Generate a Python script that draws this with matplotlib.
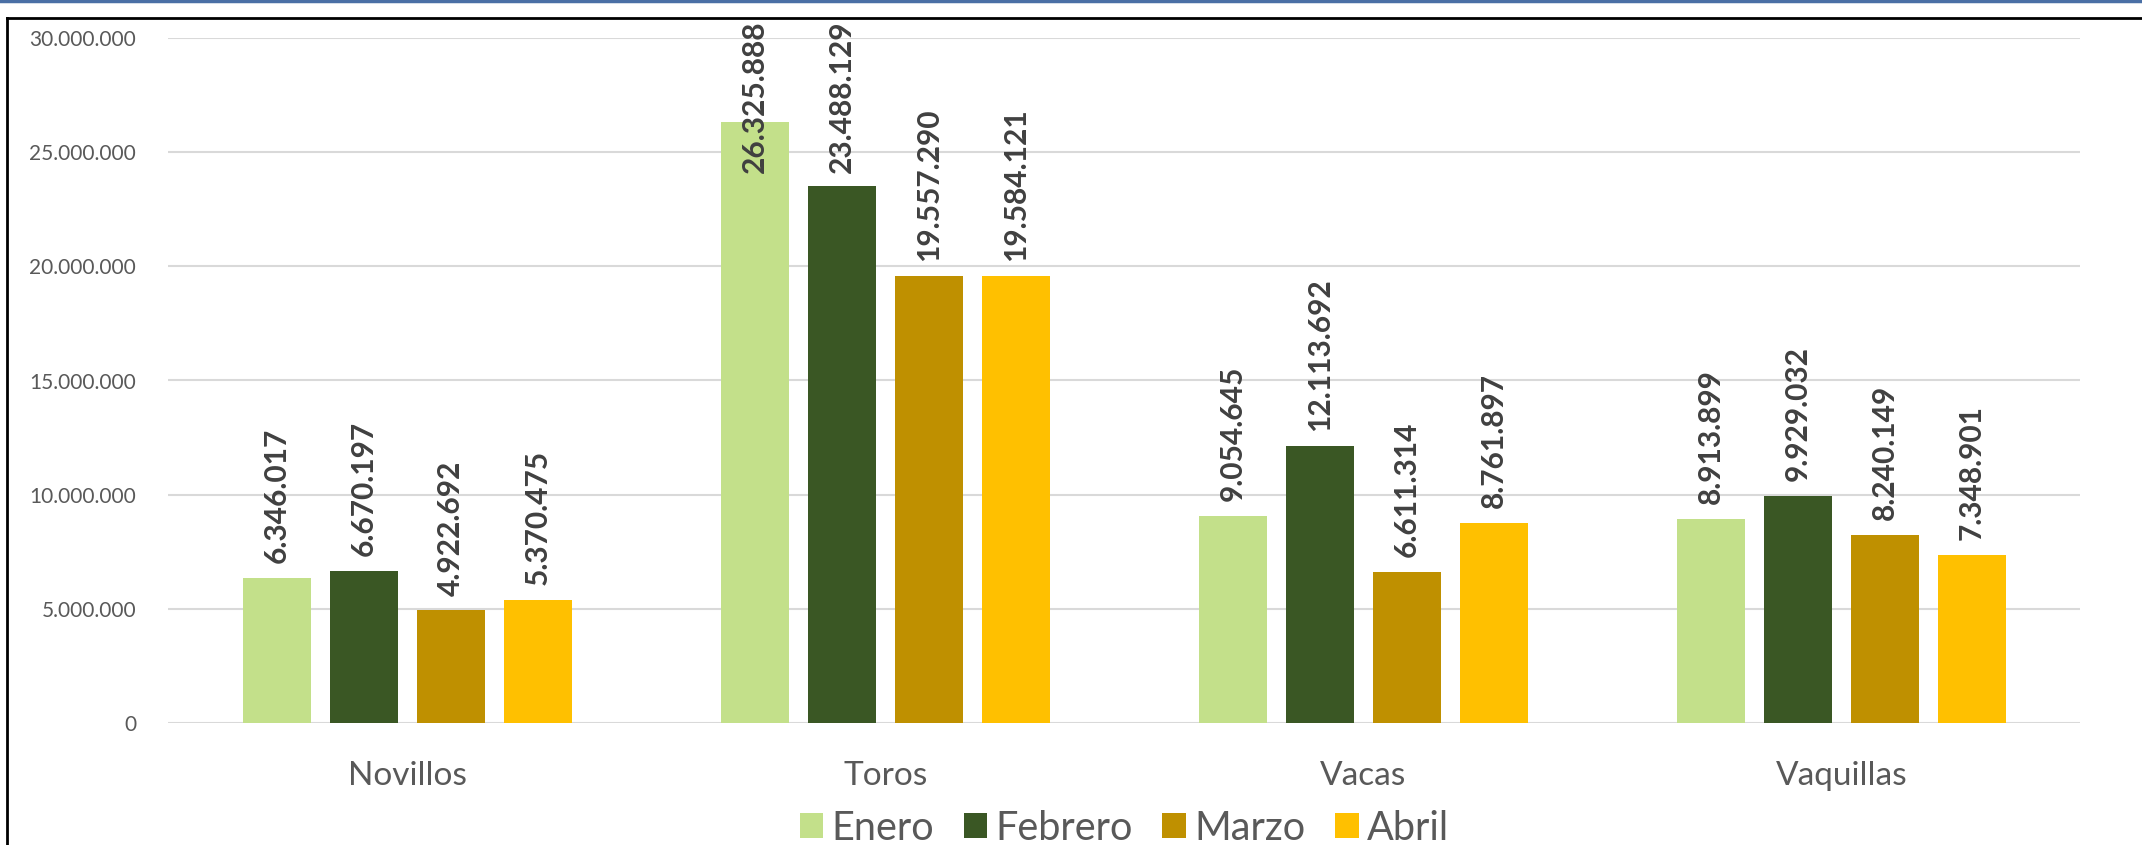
import numpy as np
import matplotlib
matplotlib.use('Agg')
import matplotlib.pyplot as plt
from matplotlib.lines import Line2D
from matplotlib.ticker import FuncFormatter

categorias = ['Novillos', 'Toros', 'Vacas', 'Vaquillas']
meses = ['Enero', 'Febrero', 'Marzo', 'Abril']
enero = [6346017, 26325888, 9054645, 8913899]
febrero = [6670197, 23488129, 12113692, 9929032]
marzo = [4922692, 19557290, 6611314, 8240149]
abril = [5370475, 19584121, 8761897, 7348901]
colores = ['#C3E08A', '#3A5724', '#BF9000', '#FFC000']

plt.rcParams['font.family'] = ['Lato', 'DejaVu Sans']

W, H = 2142, 845
fig = plt.figure(figsize=(W / 100 + 0.004, H / 100 + 0.004), dpi=100)
ax = fig.add_axes([168 / W, 1 - 723 / H, (2080 - 168) / W, (723 - 38) / H])

x = np.arange(len(categorias))
ancho = 0.142
paso = 0.182
series = [enero, febrero, marzo, abril]
etiquetas = []
for i, (mes, vals) in enumerate(zip(meses, series)):
    pos = x + (i - 1.5) * paso
    ax.bar(pos, vals, width=ancho, color=colores[i], label=mes, zorder=3)
    for px, v in zip(pos, vals):
        t = ax.annotate(f'{v:,}'.replace(',', '.'), xy=(px, v), xytext=(0, 11),
                        textcoords='offset points', rotation=90, ha='center', va='bottom',
                        fontsize=21.5, fontweight='bold', color='#404040', zorder=4)
        etiquetas.append(t)

ax.set_xlim(-0.5, 3.5)
ax.set_ylim(0, 30000000)
ax.set_yticks(np.arange(0, 30000001, 5000000))
ax.yaxis.set_major_formatter(FuncFormatter(lambda v, p: f'{int(v):,}'.replace(',', '.')))
ax.set_xticks(x)
ax.set_xticklabels(categorias)
ax.tick_params(axis='x', length=0, pad=27, labelsize=24, labelcolor='#595959')
ax.tick_params(axis='y', length=0, pad=23, labelsize=15, labelcolor='#595959')
ax.grid(axis='y', color='#D9D9D9', linewidth=1.5, zorder=0)
for s in ax.spines.values():
    s.set_visible(False)

leg = fig.legend(loc='center', bbox_to_anchor=(1124 / W, 17 / H), ncol=4, frameon=False,
                 fontsize=28.5, handlelength=0.6, handleheight=0.6, handletextpad=0.2,
                 columnspacing=0.75, borderpad=0)
for txt in leg.get_texts():
    txt.set_color('#595959')

# etiquetas que se salen del grafico se bajan (como en Excel)
fig.canvas.draw()
r = fig.canvas.get_renderer()
for t in etiquetas:
    bb = t.get_window_extent(r)
    limite = H - 20
    if bb.y1 > limite:
        dx, dy = t.xyann
        t.xyann = (dx, dy - (bb.y1 - limite) * 72 / 100)

# marco
fig.add_artist(Line2D([0, 1], [1 - 1 / H, 1 - 1 / H], transform=fig.transFigure,
                      color='#4A6FA5', linewidth=2.5))
fig.add_artist(Line2D([7 / W, 1], [1 - 18 / H, 1 - 18 / H], transform=fig.transFigure,
                      color='black', linewidth=2))
fig.add_artist(Line2D([7 / W, 7 / W], [0, 1 - 18 / H], transform=fig.transFigure,
                      color='black', linewidth=2))

fig.savefig('out.png', dpi=100)
